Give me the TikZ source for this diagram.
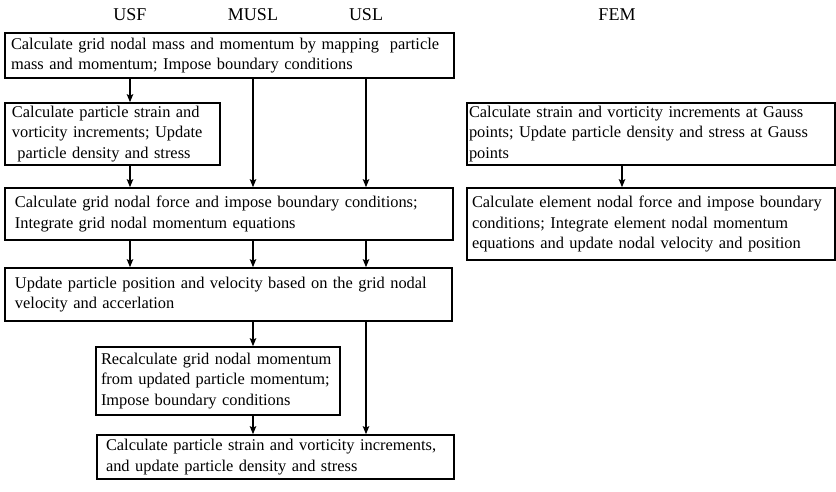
\documentclass[tikz,border=0pt]{standalone}
\usepackage{fontspec}
\setmainfont{Liberation Serif}
\usetikzlibrary{arrows.meta}
\hyphenpenalty=10000

\begin{document}
\begin{tikzpicture}[x=1pt,y=-1pt]
    \tikzset{
    stage/.style={draw, line width=1.7pt, align=left, anchor=center, inner ysep=0pt,
        font=\fontsize{16.4}{20.5}\selectfont},
    head/.style={font=\fontsize{18}{20}\selectfont},
    flow/.style={-{Stealth[length=8pt,width=6.5pt,inset=1.5pt]}, line width=1.1pt},
    }
    \useasboundingbox (0,0) rectangle (836,491);

    \node[head] (usf) at (130,15) {USF};
    \node[head] (musl) at (253,15) {MUSL};
    \node[head] (usl) at (366,15) {USL};
    \node[head] (fem) at (617,15) {FEM};

    \node[stage, minimum width=449pt, minimum height=45pt, inner xsep=6pt, text width=437pt] (map) at (229.5,55.5)
        {Calculate grid nodal mass and momentum by mapping\ \ particle\\mass and momentum; Impose boundary conditions};
    \node[stage, minimum width=215pt, minimum height=62pt, inner xsep=7pt, text width=201pt] (strainf) at (112.5,134)
        {Calculate particle strain and\\vorticity increments; Update\\\ particle density and stress};
    \node[stage, minimum width=448pt, minimum height=52pt, inner xsep=10pt, text width=428pt] (force) at (229,214)
        {Calculate grid nodal force and impose boundary conditions;\\Integrate grid nodal momentum equations};
    \node[stage, minimum width=447pt, minimum height=53pt, inner xsep=10pt, text width=427pt] (update) at (228.5,294.5)
        {Update particle position and velocity based on the grid nodal\\velocity and accerlation};
    \node[stage, minimum width=244pt, minimum height=68pt, inner xsep=5pt, text width=234pt] (remap) at (218,381)
        {Recalculate grid nodal momentum\\from updated particle momentum;\\Impose boundary conditions};
    \node[stage, minimum width=357pt, minimum height=44pt, inner xsep=9pt, text width=339pt] (strainl) at (275.5,457)
        {Calculate particle strain and vorticity increments,\\and update particle density and stress};

    \node[stage, minimum width=368pt, minimum height=62pt, inner xsep=2pt, text width=364pt] (gauss) at (651,134)
        {Calculate strain and vorticity increments at Gauss\\points; Update particle density and stress at Gauss\\points};
    \node[stage, minimum width=368pt, minimum height=72pt, inner xsep=5pt, text width=358pt] (element) at (651,224)
        {Calculate element nodal force and impose boundary\\conditions; Integrate element nodal momentum\\equations and update nodal velocity and position};

    % USF
    \draw[flow] (map.south -| usf) -- (strainf.north -| usf);
    \draw[flow] (strainf.south -| usf) -- (force.north -| usf);
    \draw[flow] (force.south -| usf) -- (update.north -| usf);
    % MUSL
    \draw[flow] (map.south -| musl) -- (force.north -| musl);
    \draw[flow] (force.south -| musl) -- (update.north -| musl);
    \draw[flow] (update.south -| musl) -- (remap.north -| musl);
    \draw[flow] (remap.south -| musl) -- (strainl.north -| musl);
    % USL
    \draw[flow] (map.south -| usl) -- (force.north -| usl);
    \draw[flow] (force.south -| usl) -- (update.north -| usl);
    \draw[flow] (update.south -| usl) -- (strainl.north -| usl);
    % FEM
    \draw[flow] (gauss.south -| 622,0) -- (element.north -| 622,0);
\end{tikzpicture}
\end{document}
